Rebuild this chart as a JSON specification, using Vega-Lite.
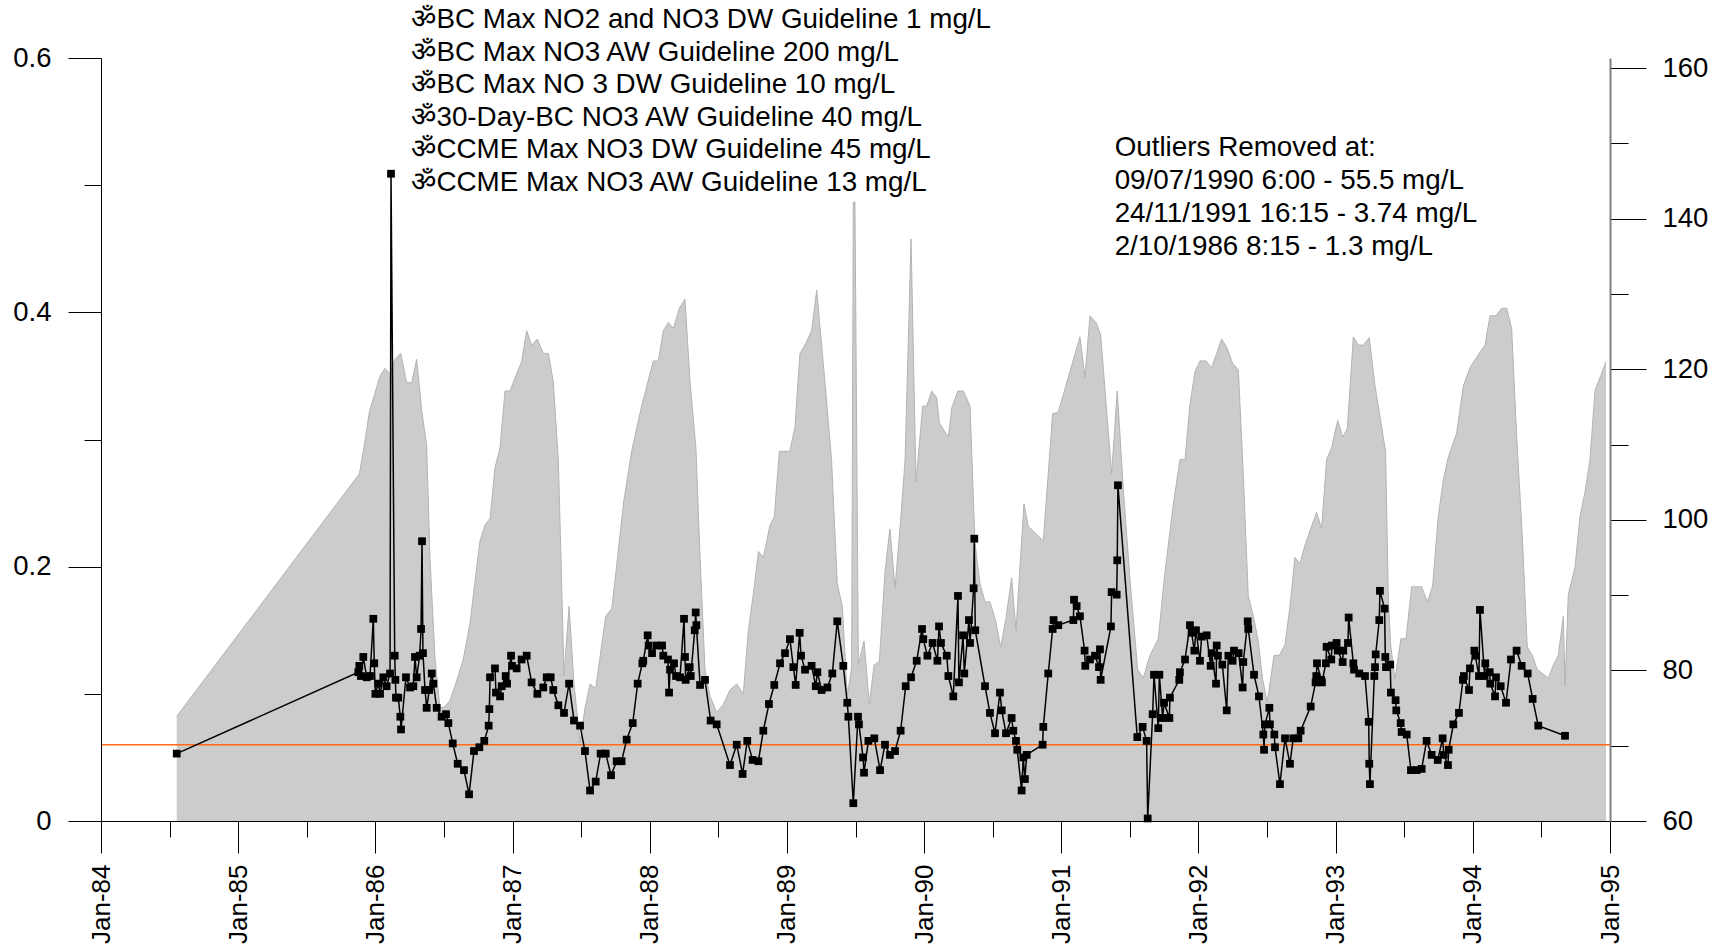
{
  "$schema": "https://vega.github.io/schema/vega-lite/v6.json",
  "width": 1509,
  "height": 763,
  "autosize": "none",
  "padding": {"left": 101, "top": 58, "right": 110, "bottom": 126},
  "background": "white",
  "config": {
    "view": {"stroke": null},
    "font": "Liberation Sans",
    "axis": {"labelFont": "Liberation Sans", "labelColor": "black", "tickColor": "black", "domainColor": "black", "grid": false, "title": null}
  },
  "datasets": {
    "flow": [
      {"t":1984.552,"r":73.9},{"t":1985.883,"r":106.1},{"t":1985.917,"r":109.6},{"t":1985.956,"r":114.3},{"t":1986.034,"r":119.1},{"t":1986.070,"r":120.1},{"t":1986.107,"r":119.4},{"t":1986.143,"r":121.3},{"t":1986.185,"r":122.1},{"t":1986.228,"r":118.2},{"t":1986.265,"r":118.2},{"t":1986.301,"r":121.3},{"t":1986.338,"r":114.5},{"t":1986.374,"r":109.9},{"t":1986.398,"r":95.0},{"t":1986.435,"r":81.5},{"t":1986.471,"r":75.0},{"t":1986.508,"r":75.2},{"t":1986.544,"r":76.0},
      {"t":1986.605,"r":79.3},{"t":1986.641,"r":81.5},{"t":1986.690,"r":86.3},{"t":1986.726,"r":91.8},{"t":1986.763,"r":97.2},{"t":1986.799,"r":99.3},{"t":1986.836,"r":100.2},{"t":1986.872,"r":106.9},{"t":1986.909,"r":109.6},{"t":1986.945,"r":117.1},{"t":1986.981,"r":117.1},{"t":1987.030,"r":119.4},{"t":1987.066,"r":121.0},{"t":1987.103,"r":125.1},{"t":1987.139,"r":123.2},{"t":1987.181,"r":124.0},{"t":1987.224,"r":122.1},{"t":1987.261,"r":122.1},{"t":1987.297,"r":118.3},{"t":1987.334,"r":107.8},{"t":1987.353,"r":95.0},{"t":1987.375,"r":79.3},{"t":1987.412,"r":88.5},{"t":1987.448,"r":78.2},{"t":1987.492,"r":70.4},{"t":1987.528,"r":75.0},{"t":1987.565,"r":78.2},{"t":1987.606,"r":77.6},{"t":1987.679,"r":87.2},{"t":1987.723,"r":88.2},{"t":1987.759,"r":93.9},{"t":1987.808,"r":102.1},{"t":1987.868,"r":109.1},{"t":1987.941,"r":115.1},{"t":1988.026,"r":121.1},{"t":1988.063,"r":121.1},{"t":1988.099,"r":125.1},{"t":1988.136,"r":126.2},{"t":1988.172,"r":125.4},{"t":1988.216,"r":128.1},{"t":1988.257,"r":129.3},{"t":1988.294,"r":118.3},{"t":1988.337,"r":109.4},{"t":1988.367,"r":95.0},{"t":1988.403,"r":80.1},{"t":1988.439,"r":76.6},{"t":1988.488,"r":74.4},{"t":1988.537,"r":75.5},
      {"t":1988.585,"r":77.4},{"t":1988.634,"r":78.2},{"t":1988.682,"r":76.9},{"t":1988.719,"r":85.3},{"t":1988.755,"r":90.1},{"t":1988.792,"r":95.8},{"t":1988.828,"r":95.0},{"t":1988.877,"r":99.3},{"t":1988.908,"r":100.4},{"t":1988.945,"r":109.1},{"t":1989.022,"r":109.1},{"t":1989.059,"r":112.4},{"t":1989.095,"r":122.1},{"t":1989.132,"r":123.2},{"t":1989.180,"r":125.1},{"t":1989.217,"r":130.5},{"t":1989.253,"r":123.2},{"t":1989.290,"r":115.6},{"t":1989.326,"r":107.8},{"t":1989.367,"r":91.5},{"t":1989.404,"r":88.5},{"t":1989.440,"r":76.6},{"t":1989.472,"r":80.4},{"t":1989.484,"r":142.2},{"t":1989.496,"r":142.2},{"t":1989.521,"r":80.7},{"t":1989.562,"r":83.9},{"t":1989.601,"r":75.5},{"t":1989.635,"r":80.7},{"t":1989.674,"r":81.2},{"t":1989.715,"r":93.1},{"t":1989.751,"r":98.8},{"t":1989.788,"r":90.9},{"t":1989.824,"r":98.8},{"t":1989.861,"r":107.8},{"t":1989.905,"r":137.3},{"t":1989.941,"r":105.0},{"t":1989.990,"r":115.1},{"t":1990.019,"r":115.1},{"t":1990.055,"r":117.1},{"t":1990.092,"r":116.2},{"t":1990.111,"r":112.9},{"t":1990.148,"r":111.8},{"t":1990.177,"r":111.0},{"t":1990.201,"r":114.8},{"t":1990.245,"r":117.1},{"t":1990.286,"r":117.1},{"t":1990.335,"r":115.1},{"t":1990.371,"r":96.9},{"t":1990.408,"r":91.5},{"t":1990.444,"r":89.1},{"t":1990.480,"r":89.1},{"t":1990.522,"r":86.6},{"t":1990.558,"r":83.1},{"t":1990.597,"r":86.9},{"t":1990.638,"r":92.3},{"t":1990.670,"r":85.3},
      {"t":1990.728,"r":102.1},{"t":1990.760,"r":99.1},{"t":1990.869,"r":97.2},{"t":1990.937,"r":114.1},{"t":1990.978,"r":114.3},{"t":1991.136,"r":124.3},{"t":1991.173,"r":118.9},{"t":1991.209,"r":127.1},{"t":1991.253,"r":126.2},{"t":1991.287,"r":124.6},{"t":1991.367,"r":106.1},{"t":1991.408,"r":117.1},{"t":1991.452,"r":104.2},{"t":1991.501,"r":92.0},{"t":1991.557,"r":80.1},{"t":1991.598,"r":79.0},{"t":1991.647,"r":82.0},{"t":1991.707,"r":84.2},{"t":1991.756,"r":93.1},{"t":1991.817,"r":102.1},{"t":1991.865,"r":108.0},{"t":1991.902,"r":108.0},{"t":1991.938,"r":115.3},{"t":1991.975,"r":119.7},{"t":1992.011,"r":121.1},{"t":1992.055,"r":121.1},{"t":1992.096,"r":120.2},{"t":1992.133,"r":122.1},{"t":1992.169,"r":124.0},{"t":1992.206,"r":122.9},{"t":1992.249,"r":120.8},{"t":1992.291,"r":119.9},{"t":1992.327,"r":105.9},{"t":1992.363,"r":89.9},{"t":1992.400,"r":87.2},{"t":1992.436,"r":83.9},{"t":1992.468,"r":78.8},{"t":1992.502,"r":75.8},{"t":1992.551,"r":82.0},{"t":1992.589,"r":82.0},{"t":1992.631,"r":83.4},
      {"t":1992.667,"r":88.5},{"t":1992.703,"r":95.0},{"t":1992.740,"r":94.2},{"t":1992.776,"r":96.6},{"t":1992.818,"r":98.8},{"t":1992.861,"r":101.0},{"t":1992.898,"r":98.8},{"t":1992.934,"r":108.0},{"t":1992.971,"r":109.6},{"t":1993.015,"r":113.2},{"t":1993.051,"r":111.0},{"t":1993.085,"r":112.1},{"t":1993.129,"r":124.3},{"t":1993.165,"r":123.2},{"t":1993.202,"r":123.2},{"t":1993.245,"r":124.2},{"t":1993.287,"r":117.8},{"t":1993.323,"r":113.7},{"t":1993.364,"r":109.1},{"t":1993.384,"r":89.6},{"t":1993.401,"r":83.4},{"t":1993.432,"r":78.8},{"t":1993.476,"r":84.2},{"t":1993.513,"r":84.2},{"t":1993.554,"r":91.1},{"t":1993.627,"r":91.1},{"t":1993.668,"r":89.1},{"t":1993.707,"r":91.2},{"t":1993.748,"r":100.4},{"t":1993.785,"r":105.3},{"t":1993.821,"r":108.3},{"t":1993.882,"r":111.5},{"t":1993.931,"r":117.8},{"t":1993.979,"r":120.2},{"t":1994.028,"r":121.6},{"t":1994.089,"r":123.2},{"t":1994.125,"r":127.1},{"t":1994.169,"r":127.1},{"t":1994.210,"r":128.1},{"t":1994.247,"r":128.1},{"t":1994.283,"r":125.4},{"t":1994.319,"r":111.3},{"t":1994.361,"r":97.7},{"t":1994.397,"r":83.1},{"t":1994.434,"r":82.0},{"t":1994.470,"r":80.1},{"t":1994.507,"r":79.6},{"t":1994.550,"r":79.0},{"t":1994.587,"r":80.7},{"t":1994.623,"r":82.0},{"t":1994.660,"r":87.2},{"t":1994.672,"r":77.9},{"t":1994.696,"r":90.1},{"t":1994.745,"r":93.7},{"t":1994.781,"r":100.4},{"t":1994.818,"r":103.7},{"t":1994.854,"r":108.0},{"t":1994.891,"r":117.2},{"t":1994.932,"r":119.1},{"t":1994.971,"r":121.0}
    ],
    "nitrate": [
      {"t":1984.552,"v":0.053},{"t":1985.876,"v":0.117},{"t":1985.883,"v":0.122},{"t":1985.895,"v":0.114},{"t":1985.912,"v":0.129},{"t":1985.937,"v":0.113},{"t":1985.961,"v":0.114},{"t":1985.985,"v":0.159},{"t":1985.992,"v":0.124},{"t":1986.000,"v":0.100},{"t":1986.022,"v":0.108},{"t":1986.034,"v":0.100},{"t":1986.058,"v":0.113},{"t":1986.082,"v":0.106},{"t":1986.107,"v":0.116},{"t":1986.114,"v":0.509},{"t":1986.141,"v":0.130},{"t":1986.146,"v":0.111},{"t":1986.150,"v":0.097},{"t":1986.167,"v":0.097},{"t":1986.182,"v":0.082},{"t":1986.187,"v":0.072},{"t":1986.223,"v":0.113},{"t":1986.253,"v":0.105},{"t":1986.277,"v":0.106},{"t":1986.289,"v":0.129},{"t":1986.301,"v":0.113},{"t":1986.323,"v":0.130},{"t":1986.333,"v":0.151},{"t":1986.340,"v":0.220},{"t":1986.347,"v":0.132},{"t":1986.362,"v":0.103},{"t":1986.374,"v":0.089},{"t":1986.393,"v":0.103},{"t":1986.411,"v":0.116},{"t":1986.423,"v":0.108},{"t":1986.447,"v":0.089},{"t":1986.483,"v":0.082},{"t":1986.515,"v":0.084},{"t":1986.532,"v":0.077},{"t":1986.564,"v":0.061},{"t":1986.600,"v":0.045},
      {"t":1986.646,"v":0.040},{"t":1986.683,"v":0.021},{"t":1986.719,"v":0.055},{"t":1986.758,"v":0.058},{"t":1986.794,"v":0.063},{"t":1986.826,"v":0.075},{"t":1986.831,"v":0.088},{"t":1986.836,"v":0.113},{"t":1986.872,"v":0.120},{"t":1986.879,"v":0.101},{"t":1986.909,"v":0.098},{"t":1986.921,"v":0.106},{"t":1986.950,"v":0.114},{"t":1986.960,"v":0.108},{"t":1986.989,"v":0.130},{"t":1986.996,"v":0.122},{"t":1987.030,"v":0.120},{"t":1987.066,"v":0.127},{"t":1987.103,"v":0.130},{"t":1987.139,"v":0.109},{"t":1987.181,"v":0.100},{"t":1987.224,"v":0.105},{"t":1987.249,"v":0.113},{"t":1987.278,"v":0.113},{"t":1987.297,"v":0.103},{"t":1987.334,"v":0.091},{"t":1987.375,"v":0.085},{"t":1987.412,"v":0.108},{"t":1987.448,"v":0.079},{"t":1987.492,"v":0.075},{"t":1987.528,"v":0.055},{"t":1987.565,"v":0.024},{"t":1987.606,"v":0.031},{"t":1987.642,"v":0.053},{"t":1987.679,"v":0.053},{"t":1987.718,"v":0.036},{"t":1987.759,"v":0.047},{"t":1987.795,"v":0.047},{"t":1987.832,"v":0.064},{"t":1987.876,"v":0.077},{"t":1987.912,"v":0.108},{"t":1987.946,"v":0.124},{"t":1987.953,"v":0.126},{"t":1987.985,"v":0.146},{"t":1987.992,"v":0.138},{"t":1988.017,"v":0.132},{"t":1988.051,"v":0.138},{"t":1988.090,"v":0.138},{"t":1988.099,"v":0.130},{"t":1988.133,"v":0.127},{"t":1988.141,"v":0.101},{"t":1988.148,"v":0.119},{"t":1988.177,"v":0.124},{"t":1988.192,"v":0.114},{"t":1988.221,"v":0.113},{"t":1988.250,"v":0.159},{"t":1988.257,"v":0.129},{"t":1988.262,"v":0.111},{"t":1988.291,"v":0.121},{"t":1988.299,"v":0.114},{"t":1988.328,"v":0.150},{"t":1988.335,"v":0.164},{"t":1988.340,"v":0.154},{"t":1988.367,"v":0.107},{"t":1988.403,"v":0.111},{"t":1988.444,"v":0.079},{"t":1988.488,"v":0.076},
      {"t":1988.585,"v":0.044},{"t":1988.634,"v":0.060},{"t":1988.677,"v":0.037},{"t":1988.711,"v":0.063},{"t":1988.750,"v":0.048},{"t":1988.792,"v":0.047},{"t":1988.828,"v":0.071},{"t":1988.869,"v":0.092},{"t":1988.908,"v":0.107},{"t":1988.950,"v":0.124},{"t":1988.986,"v":0.132},{"t":1989.022,"v":0.143},{"t":1989.047,"v":0.121},{"t":1989.064,"v":0.107},{"t":1989.093,"v":0.148},{"t":1989.103,"v":0.130},{"t":1989.132,"v":0.119},{"t":1989.180,"v":0.122},{"t":1989.210,"v":0.106},{"t":1989.222,"v":0.117},{"t":1989.253,"v":0.103},{"t":1989.295,"v":0.105},{"t":1989.331,"v":0.116},{"t":1989.367,"v":0.157},{"t":1989.411,"v":0.122},{"t":1989.440,"v":0.093},{"t":1989.448,"v":0.082},{"t":1989.484,"v":0.014},{"t":1989.518,"v":0.082},{"t":1989.525,"v":0.076},{"t":1989.555,"v":0.050},{"t":1989.562,"v":0.038},{"t":1989.594,"v":0.063},{"t":1989.637,"v":0.065},{"t":1989.679,"v":0.040},{"t":1989.715,"v":0.060},{"t":1989.751,"v":0.052},{"t":1989.788,"v":0.055},{"t":1989.829,"v":0.071},{"t":1989.866,"v":0.106},{"t":1989.905,"v":0.113},{"t":1989.946,"v":0.126},{"t":1989.985,"v":0.151},{"t":1989.994,"v":0.143},{"t":1990.024,"v":0.130},{"t":1990.062,"v":0.140},{"t":1990.097,"v":0.126},{"t":1990.109,"v":0.153},{"t":1990.123,"v":0.140},{"t":1990.165,"v":0.130},{"t":1990.177,"v":0.114},{"t":1990.213,"v":0.098},{"t":1990.247,"v":0.177},{"t":1990.254,"v":0.109},{"t":1990.284,"v":0.146},{"t":1990.293,"v":0.116},{"t":1990.327,"v":0.158},{"t":1990.335,"v":0.140},{"t":1990.361,"v":0.183},{"t":1990.366,"v":0.222},{"t":1990.373,"v":0.150},{"t":1990.444,"v":0.106},{"t":1990.480,"v":0.085},{"t":1990.517,"v":0.069},{"t":1990.553,"v":0.101},{"t":1990.566,"v":0.087},{"t":1990.597,"v":0.069},
      {"t":1990.638,"v":0.081},{"t":1990.650,"v":0.071},{"t":1990.670,"v":0.063},{"t":1990.679,"v":0.056},{"t":1990.711,"v":0.024},{"t":1990.723,"v":0.050},{"t":1990.735,"v":0.033},{"t":1990.748,"v":0.052},{"t":1990.864,"v":0.060},{"t":1990.869,"v":0.074},{"t":1990.905,"v":0.116},{"t":1990.937,"v":0.151},{"t":1990.944,"v":0.158},{"t":1990.978,"v":0.154},{"t":1991.088,"v":0.158},{"t":1991.093,"v":0.174},{"t":1991.112,"v":0.169},{"t":1991.136,"v":0.161},{"t":1991.170,"v":0.134},{"t":1991.175,"v":0.122},{"t":1991.209,"v":0.127},{"t":1991.246,"v":0.130},{"t":1991.275,"v":0.121},{"t":1991.282,"v":0.135},{"t":1991.287,"v":0.111},{"t":1991.362,"v":0.153},{"t":1991.367,"v":0.180},{"t":1991.404,"v":0.178},{"t":1991.408,"v":0.205},{"t":1991.413,"v":0.264},{"t":1991.554,"v":0.066},{"t":1991.593,"v":0.074},{"t":1991.622,"v":0.063},{"t":1991.630,"v":0.002},{"t":1991.666,"v":0.084},{"t":1991.676,"v":0.115},{"t":1991.707,"v":0.073},{"t":1991.715,"v":0.115},{"t":1991.739,"v":0.081},{"t":1991.749,"v":0.093},{"t":1991.788,"v":0.081},{"t":1991.792,"v":0.097},{"t":1991.860,"v":0.111},{"t":1991.865,"v":0.117},{"t":1991.902,"v":0.127},{"t":1991.938,"v":0.154},{"t":1991.950,"v":0.148},{"t":1991.970,"v":0.134},{"t":1991.982,"v":0.150},{"t":1992.011,"v":0.126},{"t":1992.023,"v":0.145},{"t":1992.060,"v":0.146},{"t":1992.089,"v":0.122},{"t":1992.096,"v":0.132},{"t":1992.128,"v":0.108},{"t":1992.133,"v":0.138},{"t":1992.142,"v":0.130},{"t":1992.174,"v":0.123},{"t":1992.206,"v":0.087},{"t":1992.218,"v":0.130},{"t":1992.249,"v":0.126},{"t":1992.259,"v":0.134},{"t":1992.293,"v":0.132},{"t":1992.322,"v":0.105},{"t":1992.327,"v":0.125},{"t":1992.359,"v":0.157},{"t":1992.363,"v":0.151},{"t":1992.405,"v":0.115},{"t":1992.441,"v":0.098},{"t":1992.473,"v":0.068},{"t":1992.478,"v":0.056},{"t":1992.485,"v":0.076},{"t":1992.517,"v":0.089},{"t":1992.521,"v":0.076},{"t":1992.553,"v":0.068},{"t":1992.558,"v":0.058},{"t":1992.594,"v":0.029},{"t":1992.631,"v":0.065},
      {"t":1992.667,"v":0.045},{"t":1992.691,"v":0.065},{"t":1992.728,"v":0.065},{"t":1992.745,"v":0.071},{"t":1992.818,"v":0.090},{"t":1992.854,"v":0.109},{"t":1992.859,"v":0.114},{"t":1992.864,"v":0.124},{"t":1992.895,"v":0.111},{"t":1992.900,"v":0.109},{"t":1992.929,"v":0.124},{"t":1992.934,"v":0.137},{"t":1992.968,"v":0.127},{"t":1992.973,"v":0.138},{"t":1993.007,"v":0.140},{"t":1993.015,"v":0.134},{"t":1993.051,"v":0.125},{"t":1993.056,"v":0.134},{"t":1993.090,"v":0.140},{"t":1993.095,"v":0.160},{"t":1993.129,"v":0.124},{"t":1993.134,"v":0.119},{"t":1993.172,"v":0.116},{"t":1993.214,"v":0.114},{"t":1993.241,"v":0.078},{"t":1993.245,"v":0.045},{"t":1993.250,"v":0.029},{"t":1993.282,"v":0.114},{"t":1993.287,"v":0.121},{"t":1993.292,"v":0.131},{"t":1993.318,"v":0.158},{"t":1993.323,"v":0.181},{"t":1993.357,"v":0.167},{"t":1993.362,"v":0.129},{"t":1993.367,"v":0.121},{"t":1993.398,"v":0.123},{"t":1993.403,"v":0.101},{"t":1993.437,"v":0.095},{"t":1993.442,"v":0.087},{"t":1993.474,"v":0.077},{"t":1993.481,"v":0.070},{"t":1993.518,"v":0.068},{"t":1993.549,"v":0.040},{"t":1993.590,"v":0.040},{"t":1993.627,"v":0.041},{"t":1993.663,"v":0.063},{"t":1993.700,"v":0.052},{"t":1993.744,"v":0.048},{"t":1993.780,"v":0.065},{"t":1993.788,"v":0.052},{"t":1993.819,"v":0.044},{"t":1993.824,"v":0.056},{"t":1993.858,"v":0.076},{"t":1993.899,"v":0.085},{"t":1993.928,"v":0.111},{"t":1993.935,"v":0.114},{"t":1993.972,"v":0.103},{"t":1993.979,"v":0.120},{"t":1994.011,"v":0.134},{"t":1994.018,"v":0.130},{"t":1994.045,"v":0.114},{"t":1994.052,"v":0.166},{"t":1994.086,"v":0.114},{"t":1994.091,"v":0.124},{"t":1994.123,"v":0.117},{"t":1994.127,"v":0.108},{"t":1994.162,"v":0.098},{"t":1994.169,"v":0.113},{"t":1994.203,"v":0.106},{"t":1994.242,"v":0.093},{"t":1994.278,"v":0.127},{"t":1994.319,"v":0.134},{"t":1994.356,"v":0.122},{"t":1994.400,"v":0.116},{"t":1994.436,"v":0.096},{"t":1994.477,"v":0.075},{"t":1994.672,"v":0.067}
    ],
    "guide": [{"v": 0.06}],
    "notes": [
      {"t":1986.263,"v":0.630,"label":"ॐBC Max NO2 and NO3 DW Guideline 1 mg/L"},
      {"t":1986.263,"v":0.604,"label":"ॐBC Max NO3 AW Guideline 200 mg/L"},
      {"t":1986.263,"v":0.579,"label":"ॐBC Max NO 3 DW Guideline 10 mg/L"},
      {"t":1986.263,"v":0.553,"label":"ॐ30-Day-BC NO3 AW Guideline 40 mg/L"},
      {"t":1986.263,"v":0.528,"label":"ॐCCME Max NO3 DW Guideline 45 mg/L"},
      {"t":1986.263,"v":0.502,"label":"ॐCCME Max NO3 AW Guideline 13 mg/L"},
      {"t":1991.389,"v":0.529,"label":"Outliers Removed at:"},
      {"t":1991.389,"v":0.503,"label":"09/07/1990 6:00 - 55.5 mg/L"},
      {"t":1991.389,"v":0.477,"label":"24/11/1991 16:15 - 3.74 mg/L"},
      {"t":1991.389,"v":0.451,"label":"2/10/1986 8:15 - 1.3 mg/L"}
    ]
  },
  "layer": [
    {
      "data": {"name": "flow"},
      "encoding": {
        "x": {
          "field": "t", "type": "quantitative",
          "scale": {"domain": [1984, 1995], "nice": false, "zero": false},
          "axis": {
            "values": [1984,1984.5,1985,1985.5,1986,1986.5,1987,1987.5,1988,1988.5,1989,1989.5,1990,1990.5,1991,1991.5,1992,1992.5,1993,1993.5,1994,1994.5,1995],
            "labelExpr": "datum.value % 1 === 0 ? 'Jan-' + slice(toString(datum.value), 2) : ''",
            "labelAngle": -90, "labelFontSize": 26, "labelPadding": 11,
            "tickSize": {"condition": {"test": "datum.value % 1 === 0", "value": 32}, "value": 16},
            "tickColor": "black", "domainColor": "black",
            "labelOverlap": false, "labelBound": false, "labelFlush": false, "zindex": 1, "title": null, "grid": false
          }
        },
        "y": {
          "field": "r", "type": "quantitative",
          "scale": {"domain": [60, 161.33], "nice": false, "zero": false, "clamp": true},
          "axis": {
            "orient": "right",
            "values": [60,70,80,90,100,110,120,130,140,150,160],
            "labelExpr": "datum.value % 20 === 0 ? toString(datum.value) : ''",
            "tickSize": {"condition": {"test": "datum.value % 20 === 0", "value": 36}, "value": 18},
            "labelFontSize": 27.5, "labelPadding": 16,
            "domainColor": "#808080", "domainWidth": 2,
            "labelOverlap": false, "labelFlush": false, "zindex": 1, "title": null, "grid": false
          }
        }
      },
      "layer": [
        {"mark": {"type": "area", "color": "#cccccc", "opacity": 1}},
        {"mark": {"type": "line", "color": "#b3b3b3", "strokeWidth": 1}}
      ]
    },
    {
      "layer": [
        {
          "data": {"name": "guide"},
          "mark": {"type": "rule", "color": "#ff6a13", "strokeWidth": 1.5},
          "encoding": {
            "y": {"field": "v", "type": "quantitative", "scale": {"domain": [0, 0.6], "nice": false, "zero": false}}
          }
        },
        {
          "data": {"name": "nitrate"},
          "mark": {"type": "line", "color": "black", "strokeWidth": 1.5, "point": {"shape": "square", "filled": true, "size": 60, "color": "black", "opacity": 1}},
          "encoding": {
            "x": {"field": "t", "type": "quantitative"},
            "y": {
              "field": "v", "type": "quantitative",
              "scale": {"domain": [0, 0.6], "nice": false, "zero": false},
              "axis": {
                "orient": "left",
                "values": [0, 0.1, 0.2, 0.3, 0.4, 0.5, 0.6],
                "labelExpr": "round(datum.value*10) % 2 === 0 ? format(datum.value, '~g') : ''",
                "tickSize": {"condition": {"test": "round(datum.value*10) % 2 === 0", "value": 33}, "value": 17},
                "labelFontSize": 27.5, "labelPadding": 17,
                "domainColor": "black",
                "labelOverlap": false, "labelFlush": false, "zindex": 1, "title": null, "grid": false
              }
            }
          }
        },
        {
          "data": {"name": "notes"},
          "mark": {"type": "text", "align": "left", "baseline": "middle", "fontSize": 27.8, "font": "Liberation Sans", "color": "black"},
          "encoding": {
            "x": {"field": "t", "type": "quantitative"},
            "y": {"field": "v", "type": "quantitative"},
            "text": {"field": "label"}
          }
        }
      ]
    }
  ],
  "resolve": {"scale": {"y": "independent"}}
}
